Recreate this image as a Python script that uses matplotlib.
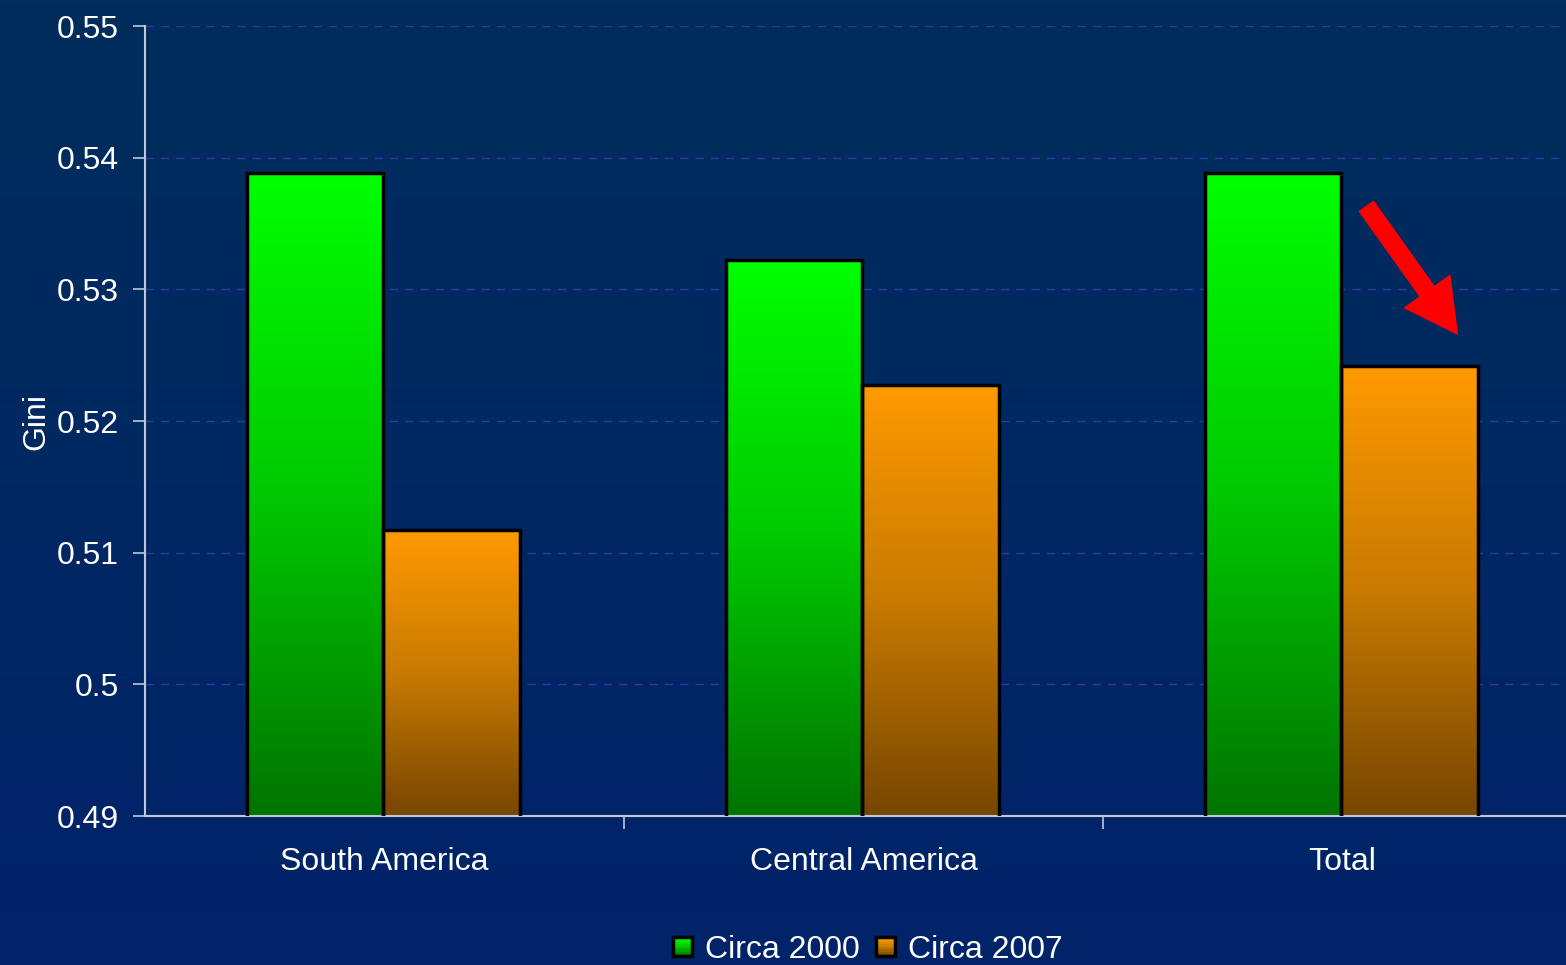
import numpy as np
import matplotlib
matplotlib.use("Agg")
import matplotlib.pyplot as plt
from matplotlib.patches import Rectangle
from matplotlib.colors import LinearSegmentedColormap
from matplotlib.legend_handler import HandlerBase

plt.rcParams['font.family'] = ['Liberation Sans', 'DejaVu Sans']

categories = ["South America", "Central America", "Total"]
series_names = ["Circa 2000", "Circa 2007"]
circa_2000 = [0.5388, 0.5322, 0.5388]
circa_2007 = [0.5117, 0.5227, 0.5242]
y_ticks = [0.49, 0.5, 0.51, 0.52, 0.53, 0.54, 0.55]
y_tick_labels = ["0.49", "0.5", "0.51", "0.52", "0.53", "0.54", "0.55"]

green_cmap = LinearSegmentedColormap.from_list("g", ["#007400", "#00c800", "#00ff00"])
orange_cmap = LinearSegmentedColormap.from_list("o", ["#774600", "#c87a00", "#ff9a00"])

W, H = 1566, 965
fig = plt.figure(figsize=(W / 100, H / 100), dpi=100)

# background gradient
bg = fig.add_axes([0, 0, 1, 1], zorder=-10)
bg_cmap = LinearSegmentedColormap.from_list("bg", ["#00236a", "#002862", "#002d5c"])
grad = np.linspace(0, 1, 256).reshape(-1, 1)
bg.imshow(grad, aspect='auto', cmap=bg_cmap, origin='lower', extent=[0, 1, 0, 1])
bg.set_axis_off()

left = 145 / W
bottom = (H - 816) / H
top = (H - 26) / H
ax = fig.add_axes([left, bottom, (1582 - 145) / W, top - bottom])
ax.set_facecolor('none')

x = np.arange(len(categories))
bw = 0.285
offsets = [-0.145, 0.140]

ax.set_xlim(-0.5, 2.5)
ax.set_ylim(0.49, 0.55)

grad_v = np.linspace(0, 1, 256).reshape(-1, 1)
for vals, off, cmap in [(circa_2000, offsets[0], green_cmap), (circa_2007, offsets[1], orange_cmap)]:
    bars = ax.bar(x + off, vals, width=bw, bottom=0, color='none', edgecolor='black', linewidth=2.5, zorder=3)
    for b in bars:
        x0 = b.get_x()
        x1 = x0 + b.get_width()
        h = b.get_height()
        im = ax.imshow(grad_v, aspect='auto', cmap=cmap, origin='lower',
                       extent=[x0, x1, 0.49, h], zorder=2)
        im.set_clip_path(b)

ax.set_xlim(-0.5, 2.5)
ax.set_ylim(0.49, 0.55)

ax.set_yticks(y_ticks)
ax.set_yticklabels(y_tick_labels)
ax.yaxis.grid(True, color='#3535a5', linestyle=(0, (6, 5)), linewidth=1)
ax.set_axisbelow(True)

ax.set_xticks([0.5, 1.5])
ax.set_xticklabels(["", ""])
ax.set_xticks(x, minor=True)
ax.set_xticklabels(categories, minor=True)
ax.tick_params(axis='x', which='major', length=9, color='#c0c8d8', width=1.2, direction='out')
ax.tick_params(axis='x', which='minor', length=0, pad=22, labelsize=23, labelcolor='white')
ax.tick_params(axis='y', length=9, color='#c0c8d8', width=1.2, pad=10, labelsize=23, labelcolor='white')

for s in ['top', 'right']:
    ax.spines[s].set_visible(False)
for s in ['left', 'bottom']:
    ax.spines[s].set_color('#c0c8d8')
    ax.spines[s].set_linewidth(1.5)

ax.set_ylabel("Gini", color='white', fontsize=23, labelpad=4)

# red arrow
ax.annotate("", xy=(2.24, 0.5266), xytext=(2.05, 0.5363),
            arrowprops=dict(arrowstyle="simple,head_length=1.5,head_width=1.6,tail_width=0.5",
                            color='#ff0000', mutation_scale=25, shrinkA=0, shrinkB=0),
            zorder=5)


class GradHandler(HandlerBase):
    def __init__(self, cmap):
        super().__init__()
        self.cmap = cmap

    def create_artists(self, legend, orig_handle, xdescent, ydescent, width, height, fontsize, trans):
        s = min(width, height)
        x0 = -xdescent + width - s
        y0 = -ydescent + (height - s) / 2
        arts = []
        n = 8
        for i in range(n):
            r = Rectangle((x0, y0 + i * s / n), s, s / n + 0.3,
                          facecolor=self.cmap(i / (n - 1)), edgecolor='none', transform=trans)
            arts.append(r)
        arts.append(Rectangle((x0, y0), s, s, facecolor='none',
                              edgecolor='black', linewidth=2.5, transform=trans))
        return arts


h1 = Rectangle((0, 0), 1, 1)
h2 = Rectangle((0, 0), 1, 1)
fig.legend([h1, h2], series_names, loc='center', bbox_to_anchor=(868 / W, (H - 950) / H),
           ncol=2, frameon=False, fontsize=23, labelcolor='white',
           handler_map={h1: GradHandler(green_cmap), h2: GradHandler(orange_cmap)},
           handlelength=0.6, handleheight=0.6, handletextpad=0.4, columnspacing=0.5)

fig.savefig("out.png", dpi=100)
